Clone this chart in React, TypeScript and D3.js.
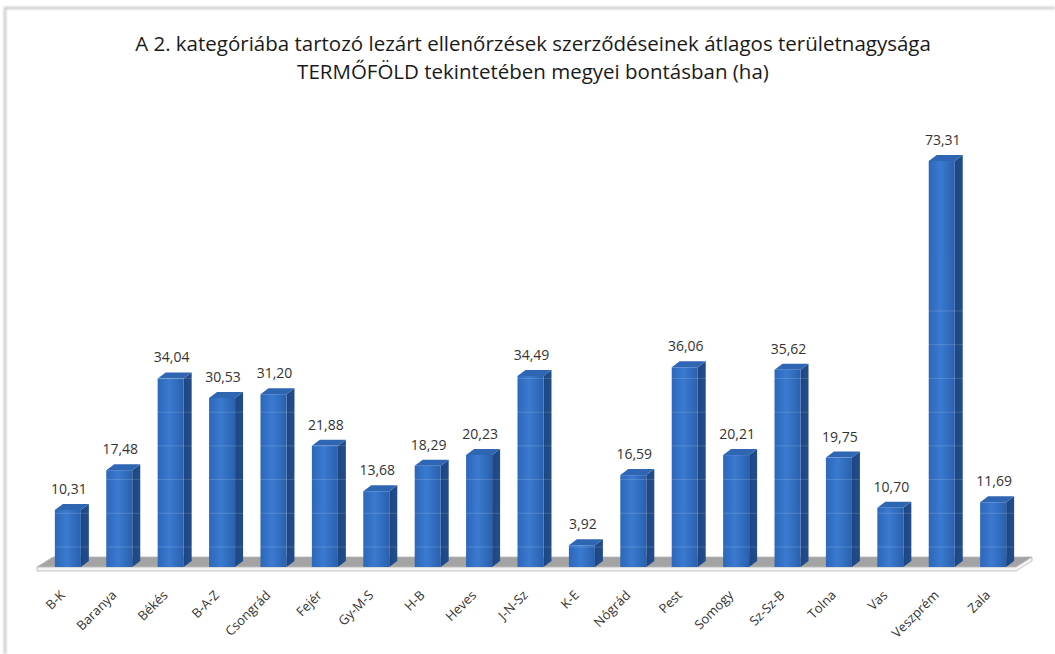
import React from "react";
import * as d3 from "d3";

const categories = ["B-K","Baranya","Békés","B-A-Z","Csongrád","Fejér","Gy-M-S","H-B","Heves","J-N-Sz","K-E","Nógrád","Pest","Somogy","Sz-Sz-B","Tolna","Vas","Veszprém","Zala"];
const values = [10.31,17.48,34.04,30.53,31.20,21.88,13.68,18.29,20.23,34.49,3.92,16.59,36.06,20.21,35.62,19.75,10.70,73.31,11.69];
const titleLines = [
  "A 2. kategóriába tartozó lezárt ellenőrzések szerződéseinek átlagos területnagysága",
  "TERMŐFÖLD tekintetében megyei bontásban (ha)",
];
const gridTicks = [0,10,20,30,40,50,60,70];

const W = 1055, H = 654;
const FONT = "'Liberation Sans Narrow', 'Open Sans', 'DejaVu Sans', sans-serif";

export default function App() {
  const x = d3.scaleBand<string>().domain(categories).range([42, 1019]).paddingInner(0.494).paddingOuter(0.25);
  const y = d3.scaleLinear().domain([0, 73.31]).range([567, 161]);
  const grid = d3.scaleLinear().domain([0, 70]).range([547, 311]);
  const locale = d3.formatLocale({ decimal: ",", thousands: " ", grouping: [3], currency: ["", ""] });
  const fmt = locale.format(".2f");
  const w = x.bandwidth();
  const dx = 8, dy = 6;
  const base = y(0);

  return (
    <svg width={W} height={H} style={{ position: "absolute", left: 0, top: 0, background: "#fff" }}>
      <defs>
        <linearGradient id="front" x1="0" x2="1" y1="0" y2="0">
          <stop offset="0" stopColor="#2c67ba" />
          <stop offset="0.45" stopColor="#3a7ad0" />
          <stop offset="1" stopColor="#2a60ad" />
        </linearGradient>
        <linearGradient id="side" x1="0" x2="1" y1="0" y2="0">
          <stop offset="0" stopColor="#1d4683" />
          <stop offset="1" stopColor="#224d8c" />
        </linearGradient>
        <filter id="blur1"><feGaussianBlur stdDeviation="0.8" /></filter>
      </defs>
      {/* frame */}
      <path d={`M5,${H} L5,8 L${W},8`} fill="none" stroke="#c9c9c9" strokeWidth={2.5} filter="url(#blur1)" />
      {/* title */}
      {titleLines.map((t, i) => (
        <text key={i} x={533} y={51 + i * 28} textAnchor="middle" fontFamily={FONT} fontSize={20.5} fill="#1a1a1a">{t}</text>
      ))}
      {/* floor */}
      <path d={`M37,567 L53,557 L1032,557 L1016,567 Z`} fill="#a3a3a3" stroke="#b5b5b5" strokeWidth={0.8} />
      <path d={`M37,567 L1016,567 L1032,557 L1032,561 L1016,571 L37,571 Z`} fill="#f4f4f4" stroke="#b5b5b5" strokeWidth={0.8} />
      {/* bars */}
      {categories.map((c, i) => {
        const x0 = x(c)!;
        const yt = y(values[i]);
        return (
          <g key={c}>
            <path d={`M${x0 + w},${yt} L${x0 + w + dx},${yt - dy} L${x0 + w + dx},${base - dy} L${x0 + w},${base} Z`} fill="url(#side)" />
            <path d={`M${x0},${yt} L${x0 + w},${yt} L${x0 + w + dx},${yt - dy} L${x0 + dx},${yt - dy} Z`} fill="#2f66b3" />
            <rect x={x0} y={yt} width={w} height={base - yt} fill="url(#front)" />
          </g>
        );
      })}
      {/* faint gridlines seen through bars */}
      {gridTicks.map(t => (
        <line key={t} x1={45} x2={1030} y1={grid(t)} y2={grid(t)} stroke="#ffffff" strokeOpacity={0.16} strokeWidth={1} />
      ))}
      {/* value labels */}
      {categories.map((c, i) => (
        <text key={c} x={x(c)! + w / 2 + 1} y={y(values[i]) - 16} textAnchor="middle" fontFamily={FONT} fontSize={14} fill="#333">{fmt(values[i])}</text>
      ))}
      {/* category labels */}
      {categories.map(c => {
        const cx = x(c)! + w / 2 - 2;
        return (
          <text key={c} transform={`translate(${cx},596) rotate(-45)`} textAnchor="end" fontFamily={FONT} fontSize={13} fill="#333">{c}</text>
        );
      })}
    </svg>
  );
}
